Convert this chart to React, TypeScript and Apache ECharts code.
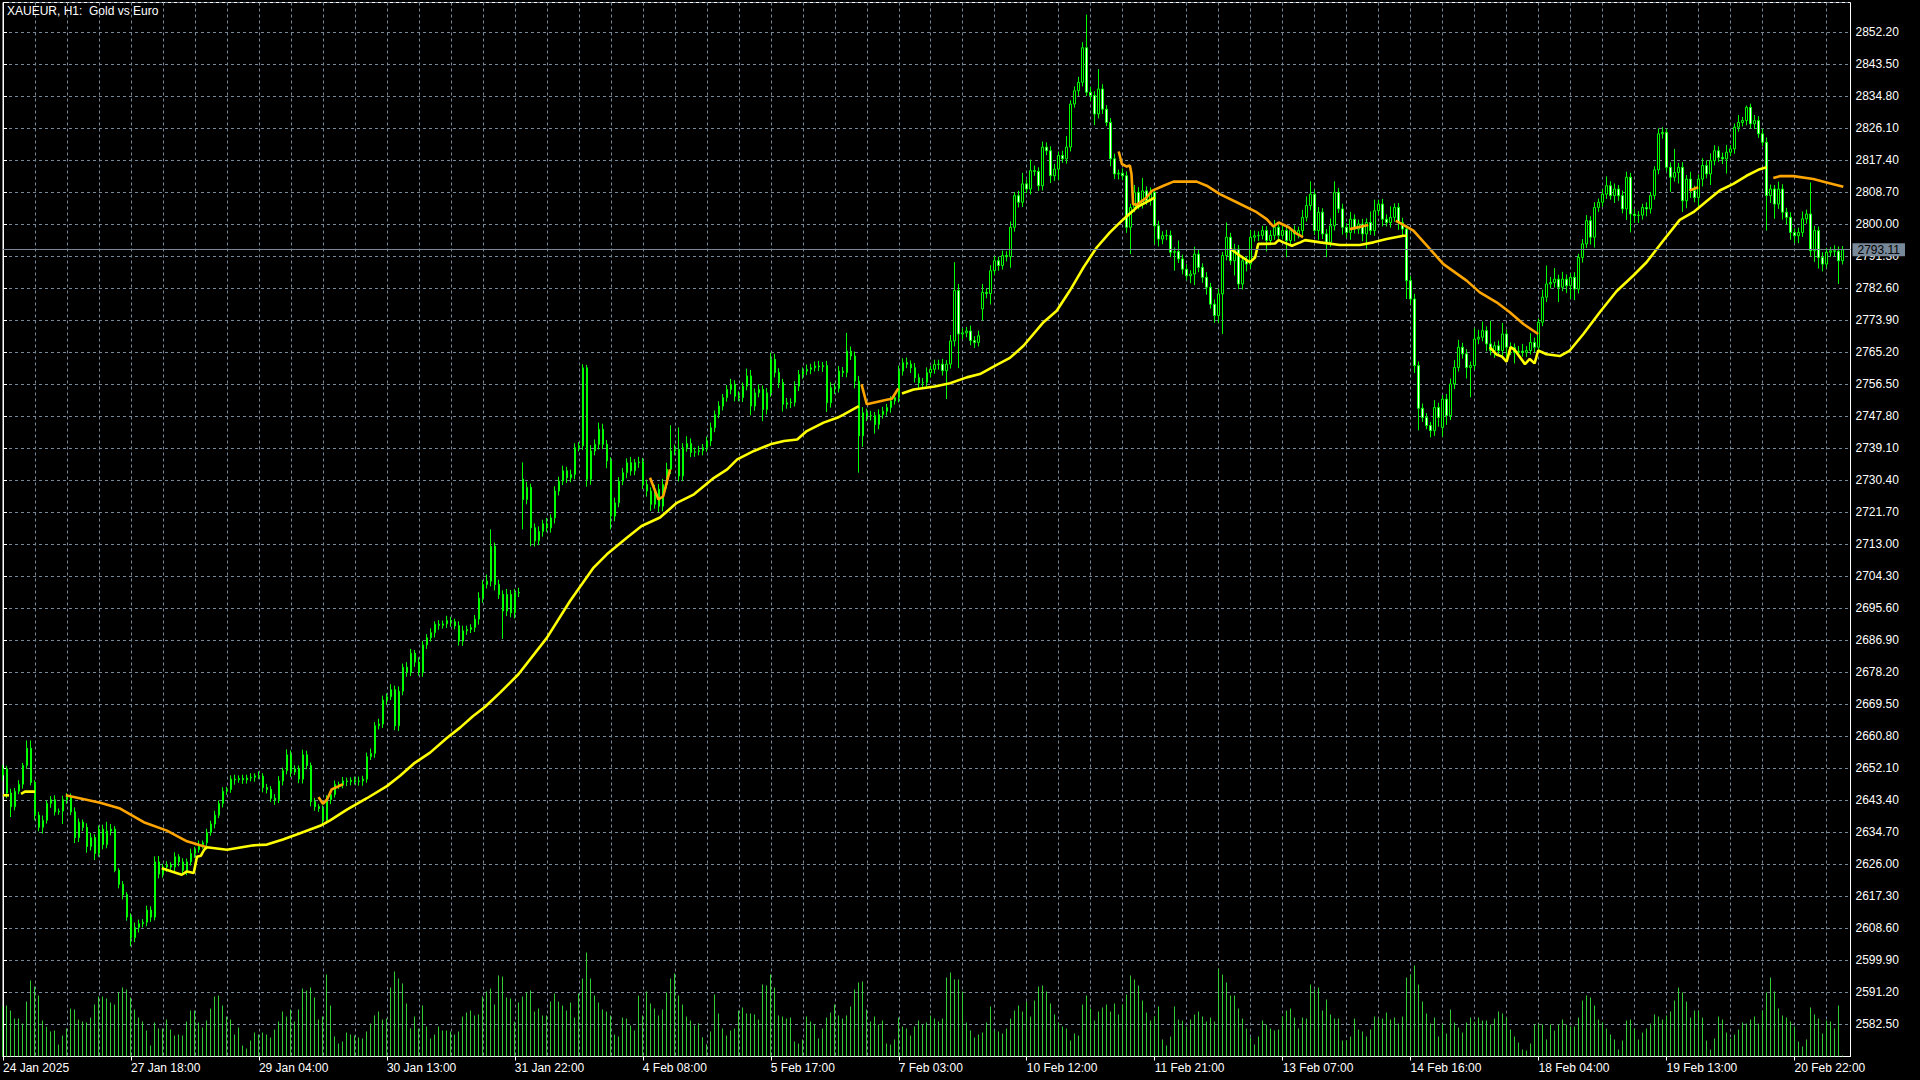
import React, { useEffect, useRef } from 'react';
import * as echarts from 'echarts';

const TITLE = 'XAUEUR, H1:  Gold vs Euro';
const FONT = '"Liberation Sans", Arial, sans-serif';

// X-axis tick labels, one every 32 hourly bars (bar 0, 32, 64 ...)
const tickLabels = [
  '24 Jan 2025', '27 Jan 18:00', '29 Jan 04:00', '30 Jan 13:00', '31 Jan 22:00',
  '4 Feb 08:00', '5 Feb 17:00', '7 Feb 03:00', '10 Feb 12:00', '11 Feb 21:00',
  '13 Feb 07:00', '14 Feb 16:00', '18 Feb 04:00', '19 Feb 13:00', '20 Feb 22:00',
];
const BARS_PER_LABEL = 32;
const BARS_PER_GRID = 8;
const SLOTS = 463; // 461 bars + chart shift

// Price axis
const priceMin = 2573.8;
const priceMax = 2860.3;
const priceStep = 8.7;

// H1 closes
const closes = [
  2652.0,2645.4,2641.7,2645.9,2647.8,2652.9,2657.6,2648.3,2639.4,2636.1,
  2638.0,2642.6,2643.6,2640.3,2640.5,2643.6,2644.5,2640.3,2633.3,2637.5,
  2636.1,2630.9,2633.3,2629.0,2635.6,2631.4,2635.1,2635.6,2624.4,2620.6,
  2617.8,2611.7,2606.1,2608.9,2609.9,2610.3,2613.6,2611.7,2626.7,2623.4,
  2625.3,2625.8,2625.3,2628.1,2626.7,2624.4,2626.7,2629.0,2630.0,2631.4,
  2631.9,2634.7,2637.0,2639.4,2642.6,2645.9,2646.4,2649.2,2649.0,2649.4,
  2649.0,2649.5,2649.7,2650.1,2650.0,2646.9,2646.4,2644.0,2643.6,2648.7,
  2651.5,2655.8,2651.1,2652.0,2649.2,2655.8,2652.9,2643.1,2641.7,2641.2,
  2638.0,2643.6,2645.0,2647.8,2647.6,2648.7,2648.5,2648.9,2648.5,2648.7,
  2649.2,2655.3,2656.2,2663.7,2664.2,2670.7,2671.6,2673.5,2663.7,2673.1,
  2679.6,2678.2,2683.4,2681.0,2678.2,2685.7,2687.6,2689.0,2691.3,2691.0,
  2691.4,2692.3,2692.0,2690.9,2686.7,2689.5,2689.9,2690.4,2692.7,2698.4,
  2702.1,2703.0,2712.5,2702.1,2699.4,2694.9,2699.4,2694.4,2699.9,2699.8,
  2725.2,2728.5,2717.5,2714.0,2716.5,2718.6,2717.5,2720.2,2727.5,2730.2,
  2733.0,2731.1,2732.0,2739.3,2739.8,2761.0,2730.7,2738.4,2740.2,2744.3,
  2740.2,2735.7,2720.7,2724.3,2730.2,2732.5,2735.2,2733.0,2735.2,2735.4,
  2729.3,2727.5,2723.9,2728.0,2723.4,2729.3,2733.4,2738.4,2738.8,2731.6,
  2739.3,2740.4,2738.0,2738.2,2738.5,2739.3,2741.1,2744.7,2748.3,2750.6,
  2752.9,2755.1,2756.5,2753.3,2752.9,2756.0,2758.8,2750.6,2754.2,2755.1,
  2749.7,2754.2,2763.3,2759.7,2757.0,2751.1,2751.5,2751.6,2756.0,2759.2,
  2760.1,2760.6,2761.0,2761.5,2761.3,2761.6,2751.5,2755.6,2755.4,2760.1,
  2759.7,2765.5,2764.2,2757.4,2742.5,2748.8,2747.9,2748.0,2745.6,2748.3,
  2749.2,2750.2,2752.0,2752.9,2760.1,2762.4,2762.0,2761.0,2758.3,2756.9,
  2757.0,2759.7,2760.6,2761.9,2762.0,2760.2,2762.0,2768.3,2782.0,2770.2,
  2770.5,2771.0,2768.4,2767.9,2769.7,2781.5,2781.2,2787.4,2790.1,2788.8,
  2791.5,2791.2,2799.2,2807.8,2806.0,2811.0,2809.6,2814.6,2814.4,2810.5,
  2821.0,2820.0,2813.2,2815.0,2818.7,2817.8,2821.0,2832.7,2836.3,2838.6,
  2848.0,2835.9,2835.0,2830.0,2836.8,2831.3,2827.7,2817.8,2813.7,2813.9,
  2813.2,2799.2,2804.6,2808.7,2805.5,2809.1,2806.4,2808.7,2799.6,2796.0,
  2796.9,2797.0,2792.4,2792.6,2790.6,2787.8,2786.0,2786.5,2791.9,2788.3,
  2785.6,2782.9,2778.3,2775.2,2781.1,2791.5,2796.5,2790.1,2793.3,2783.8,
  2790.1,2789.2,2796.5,2796.9,2797.0,2798.3,2795.6,2797.0,2799.2,2797.0,
  2798.3,2795.6,2798.3,2797.4,2798.3,2801.9,2805.1,2808.2,2798.3,2803.3,
  2797.4,2795.1,2799.6,2808.7,2804.2,2799.2,2797.8,2801.4,2798.7,2800.1,
  2797.4,2800.5,2798.3,2803.7,2805.5,2801.4,2800.5,2801.9,2804.6,2800.5,
  2798.7,2784.7,2779.7,2761.6,2750.0,2747.5,2745.3,2743.9,2750.2,2747.5,
  2752.5,2748.0,2756.6,2761.1,2766.6,2764.8,2761.1,2761.6,2768.8,2769.3,
  2771.1,2767.5,2765.7,2767.0,2765.7,2770.2,2766.6,2766.5,2765.2,2765.5,
  2765.2,2765.7,2767.9,2766.6,2773.4,2780.2,2783.8,2784.2,2785.1,2782.9,
  2785.1,2783.3,2785.6,2782.4,2791.0,2794.7,2801.0,2796.5,2804.6,2806.0,
  2808.2,2810.5,2807.8,2809.6,2807.8,2804.2,2812.8,2802.8,2802.4,2802.5,
  2804.6,2804.2,2807.8,2814.8,2824.6,2825.0,2815.5,2812.8,2814.1,2815.5,
  2806.4,2812.3,2809.2,2807.3,2812.3,2816.0,2813.7,2817.3,2820.0,2818.2,
  2817.8,2819.6,2820.5,2826.4,2827.7,2828.2,2831.8,2827.3,2828.2,2824.6,
  2822.3,2807.8,2809.6,2805.5,2809.6,2803.3,2801.9,2797.8,2796.9,2797.8,
  2801.5,2802.8,2792.8,2798.3,2791.0,2789.2,2792.4,2792.8,2792.7,2790.1,
  2793.11,
];

// Opens that differ from the previous close (session gaps)
const gapOpens: Record<number, number> = { 0: 2650.3, 130: 2730.7, 245: 2777.0, 360: 2744.8 };

// Upper wick length above the body
const wickUp = [
  1.0,0.8,1.2,0.9,1.1,0.7,2.1,2.1,0.6,0.9,1.3,0.8,1.0,1.2,0.7,1.1,0.9,0.8,1.2,1.0,
  0.7,1.1,1.3,0.9,1.0,1.2,2.5,1.4,0.8,0.6,0.9,0.7,1.0,1.3,1.1,0.8,1.2,1.0,1.5,1.6,
  0.9,1.1,0.8,1.2,0.7,1.0,0.9,1.3,0.8,1.1,0.6,1.0,0.9,1.2,0.8,1.1,0.7,1.0,1.2,0.8,
  1.0,0.9,1.1,0.7,1.2,0.8,1.0,0.9,1.1,1.3,0.8,1.5,1.2,1.0,0.9,1.4,1.1,0.8,1.0,0.7,
  0.9,1.2,0.8,1.0,0.7,1.1,0.9,0.8,1.0,1.2,0.9,1.1,1.3,1.0,1.4,1.2,0.9,1.5,1.1,1.3,
  1.0,1.4,1.2,0.9,1.3,1.1,1.0,1.2,0.8,1.1,0.9,1.3,1.0,0.8,1.2,1.4,1.0,0.9,1.1,1.6,
  1.2,1.8,4.6,1.0,1.3,1.1,1.5,1.2,1.0,1.3,4.6,1.5,1.0,1.2,1.4,1.1,1.6,1.0,1.3,1.2,
  1.4,1.1,1.3,1.2,1.0,1.0,0.8,1.6,1.3,1.8,1.5,1.2,1.0,1.4,1.1,1.3,1.2,1.6,1.0,1.4,
  1.1,1.3,1.0,1.2,1.4,1.5,1.8,7.0,1.3,6.0,1.2,2.0,1.4,1.1,1.3,1.0,1.2,1.4,1.1,1.3,
  1.0,1.2,1.5,1.1,1.3,1.0,2.0,1.6,1.2,1.4,1.1,1.3,1.8,1.5,1.2,1.0,1.3,1.1,1.4,1.2,
  1.0,1.3,1.1,1.2,1.4,1.0,1.3,1.5,1.2,1.4,1.1,5.0,1.3,1.2,1.4,1.5,1.1,1.3,1.0,1.4,
  1.2,1.0,1.3,1.1,1.5,1.2,1.4,1.0,1.3,1.1,1.2,1.4,1.0,1.3,1.2,1.4,1.1,1.6,7.7,1.8,
  1.3,1.1,1.5,1.2,1.4,2.3,1.2,1.5,1.3,1.1,1.4,1.2,1.6,1.0,1.3,3.0,1.2,3.0,1.4,1.1,
  1.5,1.3,1.2,1.4,1.1,1.3,3.0,1.0,1.2,1.5,1.5,9.0,1.4,1.2,5.4,1.3,1.1,1.2,1.4,1.0,
  1.3,1.2,1.0,2.0,1.4,3.5,1.2,1.3,1.1,1.4,1.2,1.5,1.3,1.1,3.0,1.2,1.4,1.0,2.0,1.3,
  1.1,1.4,1.2,1.3,1.5,1.0,4.0,1.2,1.4,1.1,1.3,1.2,2.0,1.4,1.1,1.3,1.2,1.4,2.0,1.1,
  1.3,1.2,1.0,1.4,1.1,2.0,2.5,3.5,1.2,1.4,1.1,1.3,2.0,3.0,1.2,1.4,1.1,2.0,1.3,1.2,
  1.4,1.1,3.0,3.0,1.2,1.4,1.3,3.0,1.1,1.2,1.3,1.0,1.2,1.4,1.1,1.3,1.2,1.0,2.0,1.3,
  1.1,1.4,1.5,2.0,2.0,1.2,1.3,1.1,3.0,2.0,2.5,1.2,6.3,1.1,1.4,3.0,1.2,1.3,1.1,1.4,
  2.0,1.2,2.5,1.3,1.0,2.0,5.0,1.5,3.0,1.2,2.0,1.3,1.1,1.4,1.0,1.3,1.5,1.2,1.4,1.0,
  1.3,2.5,1.2,1.5,1.1,1.4,1.5,1.2,1.3,1.1,1.0,1.4,1.0,1.0,1.5,1.4,1.0,1.3,6.4,1.2,
  1.4,1.1,2.0,1.3,1.2,2.0,1.4,2.0,1.5,1.2,1.3,2.0,1.0,1.0,2.0,1.0,0.5,1.0,1.5,1.2,
  1.4,1.3,1.2,1.1,2.0,1.3,1.2,1.4,1.1,1.3,2.0,1.2,8.6,1.3,1.1,1.4,1.2,1.0,1.5,1.3,
  1.0,
];

// Lower wick length below the body
const wickDn = [
  1.5,1.4,2.8,1.0,0.8,1.2,0.9,0.8,1.4,1.1,1.7,0.9,1.2,1.0,0.8,3.5,1.1,0.9,1.5,1.2,
  1.0,1.7,1.1,1.8,0.9,1.3,1.0,1.2,0.5,1.1,1.3,1.0,2.3,1.2,1.4,1.0,1.1,1.3,0.9,1.2,
  1.0,1.3,0.8,1.1,1.2,0.9,1.3,1.0,1.2,0.8,1.1,1.0,0.9,1.2,0.8,1.1,1.0,0.9,1.3,0.8,
  1.1,1.0,0.9,1.2,0.8,1.3,1.1,1.0,1.4,0.9,1.2,1.0,1.3,0.8,1.1,1.2,1.0,1.3,1.1,0.9,
  1.4,1.0,1.2,0.8,1.1,0.9,1.2,1.0,0.8,1.1,1.3,1.0,0.9,1.2,1.0,1.1,1.3,0.9,1.2,1.4,
  1.1,1.2,1.0,1.3,0.9,1.2,1.1,1.0,1.3,1.2,0.9,1.1,1.4,1.0,1.2,1.3,1.1,1.0,1.2,1.5,
  1.3,1.1,1.4,1.6,1.2,7.6,1.4,1.2,1.5,1.1,8.1,1.3,5.0,1.6,1.2,1.4,1.1,1.3,1.5,1.2,
  1.1,1.4,1.2,1.3,1.0,1.1,2.0,1.5,1.2,1.4,1.3,2.0,3.6,1.4,1.2,1.1,1.5,1.3,1.2,1.4,
  1.3,1.5,1.8,1.2,1.6,1.4,1.1,1.3,1.2,1.5,1.4,1.1,1.3,1.2,1.0,1.3,1.1,1.4,1.2,1.0,
  1.2,1.1,1.3,1.4,1.0,1.2,1.1,2.5,1.3,1.2,3.2,1.4,1.1,1.3,1.5,2.0,1.2,1.4,1.1,1.3,
  1.2,1.1,1.3,1.0,1.2,1.4,2.5,1.3,1.5,1.1,1.2,1.3,1.1,2.0,10.0,3.0,1.4,1.2,2.5,1.3,
  1.1,1.2,1.4,1.0,1.3,1.2,1.1,1.4,1.3,1.5,1.2,1.1,1.3,1.2,1.4,1.3,7.7,1.2,1.5,9.3,
  1.4,1.2,1.3,1.5,1.1,3.2,1.3,3.0,1.2,1.4,1.1,1.3,3.0,1.2,1.4,1.3,1.1,1.5,1.2,1.4,
  1.3,1.2,2.0,1.4,3.0,1.1,1.3,1.2,1.0,1.4,1.1,1.0,1.5,3.0,1.2,1.3,1.0,2.0,1.4,1.5,
  1.2,1.5,7.3,1.3,1.4,1.2,1.1,1.3,5.0,2.0,1.4,1.2,1.3,5.0,1.1,1.4,1.2,2.0,3.0,1.3,
  1.5,2.0,1.2,2.0,2.0,10.9,1.3,1.1,4.0,1.4,1.5,2.0,1.3,1.2,1.4,1.1,3.0,1.3,1.2,1.4,
  1.1,4.5,1.3,2.0,1.2,1.4,1.1,1.3,1.2,2.5,1.4,4.0,1.2,1.3,1.1,2.0,1.4,2.0,1.2,1.3,
  2.0,4.0,1.2,1.4,1.3,2.0,1.1,1.4,1.2,2.0,2.0,5.0,1.5,2.0,6.0,1.2,1.0,1.8,1.4,2.5,
  2.5,2.5,1.2,1.4,1.1,1.3,3.0,8.1,1.2,1.4,1.1,2.0,1.3,2.0,1.2,1.4,3.0,2.0,3.0,1.2,
  1.2,1.3,1.1,1.4,1.2,1.1,1.3,1.2,1.4,4.0,1.1,2.0,3.6,3.0,1.2,1.4,1.1,2.0,2.8,1.2,
  1.2,1.3,1.1,2.0,1.4,1.2,3.0,5.0,2.0,2.0,1.2,2.0,1.3,1.1,1.2,1.3,1.1,4.0,1.2,3.0,
  3.0,2.0,2.0,1.3,3.0,2.0,1.2,3.0,1.3,1.2,1.4,4.0,1.1,1.3,1.2,1.1,1.3,1.2,1.4,1.1,
  1.0,9.5,2.0,4.0,1.3,2.0,2.0,2.0,2.0,2.0,1.2,1.3,1.5,3.0,3.0,2.0,1.0,1.2,1.4,6.3,
  1.0,
];

// Tick volumes
const volumes = [
  1500,
  1530,1380,1140,1140,990,1650,2280,2100,1830,1080,
  890,750,780,360,630,840,1440,1410,1110,1050,
  1020,1170,1560,1800,1800,1740,1620,1560,1920,2070,
  2010,1770,1410,1170,1050,780,330,1020,840,840,
  1110,810,630,660,630,1050,1380,1380,1020,870,
  1080,1440,1800,1830,1530,1200,1110,660,870,330,
  240,480,720,660,720,660,570,810,1050,1350,
  1200,1410,1050,1410,2040,1980,2070,1770,1110,1200,
  2460,1530,600,390,450,720,660,630,570,540,
  750,990,1230,1350,1110,1140,2070,2550,2340,2190,
  1590,850,1200,840,1530,900,540,660,900,780,
  780,750,660,750,1200,1320,1380,1230,1260,1800,
  1950,2040,1560,2430,2400,1770,1740,1050,1620,1800,
  1920,1980,1350,1440,1230,1230,1650,1890,1650,1530,
  1380,1620,1170,1890,2340,3120,2340,1830,1620,1410,
  1350,1230,660,600,1170,1140,930,780,1830,1230,
  1950,1590,1440,1230,1410,1920,2340,2490,1830,1560,
  1200,1080,930,
  1000,
  580,370,750,1860,1290,840,630,780,840,1380,
  1470,1290,1290,1260,1110,2160,2130,2460,2070,1230,
  1200,1140,1170,450,390,510,1200,1050,960,540,
  840,1170,1320,1560,1230,1140,1230,1500,2010,2220,
  2250,1410,1050,1200,960,1080,390,360,510,1170,
  900,840,630,900,1080,960,1020,1230,1140,1050,
  1140,2370,2520,2310,2310,1950,1020,780,570,660,
  720,1020,1500,780,750,690,840,1140,1380,1530,
  1350,1650,1200,1680,2100,2130,1950,1590,1260,1020,
  900,840,480,690,630,1560,1830,1440,1080,1350,
  1470,1560,1350,1590,1260,1560,1860,2430,2310,2130,
  1680,1320,1080,1200,1500,510,330,600,1500,1110,
  1080,900,1110,1260,1350,1200,1050,1170,1050,2640,
  2460,2220,1830,1830,1440,1140,840,570,360,600,
  1080,960,840,780,810,1200,1380,1440,1170,840,
  1170,1140,2160,2010,2070,1380,1710,1260,1140,1140,
  480,480,600,1140,810,750,600,810,1200,1140,
  1140,1320,1110,1170,990,1200,2370,2460,2730,2160,
  1650,1290,990,1170,600,990,690,1410,1020,870,
  720,1020,1170,1050,1170,1080,1080,960,1140,1350,
  1290,1170,810,600,420,210,180,390,960,990,
  960,510,960,780,960,1110,960,900,900,1170,
  1680,1830,1770,1530,1110,1020,840,660,510,210,
  480,1080,1110,840,510,720,840,990,1260,1200,
  1110,1230,1350,1680,2070,1920,1650,1170,1380,1380,
  1170,480,210,540,1200,1110,720,540,660,810,
  1020,990,1110,1200,990,1380,1920,2370,1950,1440,
  1230,1170,1050,900,450,300,510,1470,1260,1140,
  690,1080,1050,840,1530,30,
];

// Moving-average indicator, rising (yellow) pieces: [bar, price]
const maRisingSegments: number[][][] = [
  [[0, 2644.8], [1.5, 2644.8]],
  [[4.5, 2645.2], [5.5, 2645.8], [8, 2645.8]],
  [[39.7, 2625.0], [44.7, 2623.2], [46, 2624.1], [47.7, 2623.7], [48.5, 2628.1], [49.5, 2628.4], [50.3, 2630.0], [51, 2630.7]],
  [[51, 2630.7], [56, 2630.0], [62.7, 2631.2], [66, 2631.4], [70, 2632.8], [74.3, 2634.5], [79.3, 2636.5], [81.8, 2638.0],
   [86, 2640.9], [91, 2644.0], [96, 2647.3], [99.3, 2650.1], [102.7, 2653.4], [106.8, 2656.4], [111, 2660.4], [114.3, 2663.2],
   [117.5, 2666.3], [120.5, 2668.8], [124.3, 2672.7], [128.9, 2677.7], [136, 2687.6], [141.8, 2697.6], [147.7, 2706.7],
   [151, 2710.3], [156, 2714.8], [159.7, 2718.0], [164.3, 2720.3], [168.5, 2724.3], [172.8, 2726.6], [177.8, 2731.1],
   [181.1, 2733.4], [183.6, 2736.1], [187.8, 2738.4], [191.9, 2740.2], [195.3, 2741.1], [198.6, 2741.5], [201, 2743.8],
   [205.2, 2746.1], [208.6, 2747.4], [210.2, 2748.3], [214, 2750.6]],
  [[224.8, 2754.0], [227.7, 2755.1], [233, 2755.9], [236.8, 2756.8], [241, 2758.4], [244.3, 2759.3], [248.5, 2761.8],
   [251.8, 2763.7], [255.2, 2767.0], [260.2, 2773.4], [263.5, 2776.5], [266.8, 2782.0], [270.2, 2788.3], [273.5, 2793.7],
   [276.8, 2797.8], [280.2, 2801.4], [283.5, 2804.6], [288.1, 2807.3]],
  [[307, 2793.3], [309.3, 2791.5], [311.8, 2789.7], [313.1, 2791.0], [313.9, 2794.7], [316, 2794.7], [318.1, 2794.8],
   [319, 2795.7], [320.2, 2795.1], [322.3, 2794.2], [324.4, 2795.1], [325.6, 2795.7], [329.4, 2795.1], [334.3, 2794.4],
   [339.3, 2794.4], [342.7, 2795.1], [346, 2796.0], [350.2, 2796.9], [351, 2796.9]],
  [[371.8, 2766.6], [373.5, 2764.6], [374.8, 2764.1], [376, 2762.7], [377, 2766.6], [378, 2765.9], [380.6, 2762.0],
   [381.8, 2763.4], [383, 2762.2], [383.9, 2765.7], [386, 2764.7], [389.3, 2764.2], [391.8, 2765.7], [395.2, 2770.2],
   [399.3, 2776.1], [403.5, 2781.8], [407.7, 2786.1], [411, 2789.7], [415.2, 2795.6], [419.3, 2801.2], [422.7, 2803.3],
   [426, 2806.3], [429.3, 2809.2], [432.7, 2811.0], [436, 2813.2], [439.3, 2815.0], [441, 2815.5]],
];

// Moving-average indicator, falling (orange) pieces: [bar, price]
const maFallingSegments: number[][][] = [
  [[15.7, 2644.8], [24.3, 2642.8], [29.3, 2641.2], [35.2, 2637.5], [41, 2635.2], [46, 2632.3], [49.3, 2631.2], [51, 2630.7]],
  [[78.9, 2644.3], [80, 2642.5], [81, 2643.6], [82.2, 2646.4], [85, 2647.8]],
  [[161.8, 2731.1], [163.9, 2725.2], [165.1, 2726.1], [166.8, 2733.4]],
  [[214.7, 2756.5], [216, 2751.1], [221, 2752.3], [222.3, 2752.6], [223.9, 2755.4]],
  [[279, 2819.8], [279.8, 2816.4], [281, 2815.7], [281.8, 2816.0], [282.2, 2813.7], [282.6, 2805.5], [283.5, 2805.3],
   [286, 2807.3], [287.3, 2809.1], [290.2, 2810.5], [292.7, 2811.6], [298.5, 2811.6], [301, 2810.5], [304.3, 2808.2],
   [308.5, 2806.0], [313.5, 2803.3], [316, 2801.4], [317.7, 2799.4], [319, 2800.5], [321.5, 2799.2], [323.6, 2797.4],
   [325.1, 2796.5]],
  [[336.8, 2798.7], [341.4, 2799.8]],
  [[348.3, 2801.0], [352.7, 2798.3], [356.8, 2793.3], [360.2, 2789.2], [366, 2784.7], [369.3, 2781.5], [373.5, 2778.8],
   [376.8, 2776.1], [380.2, 2772.9], [383.9, 2770.2]],
  [[421.8, 2809.2], [423.9, 2810.1]],
  [[442.7, 2812.6], [444.3, 2813.1], [447.7, 2813.1], [452.7, 2812.3], [456, 2811.4], [460.2, 2810.2]],
];

const GRID_COLOR = '#778899';
const CANDLE_GREEN = '#00ff00';
const VOLUME_GREEN = '#32cd32';
const RISING_COLOR = '#ffff00';
const FALLING_COLOR = '#ffa500';

export default function App() {
  const ref = useRef<HTMLDivElement>(null);

  useEffect(() => {
    if (!ref.current) return;
    const chart = echarts.init(ref.current, null, { renderer: 'svg' });

    const categories = Array.from({ length: SLOTS }, (_, i) => String(i));
    const candles = closes.map((c, i) => {
      const o = gapOpens[i] !== undefined ? gapOpens[i] : closes[i - 1];
      const hi = Math.max(o, c) + wickUp[i];
      const lo = Math.min(o, c) - wickDn[i];
      return [o, c, Math.round(lo * 100) / 100, Math.round(hi * 100) / 100];
    });
    const lastPrice = closes[closes.length - 1];

    const lineSeries = (segs: number[][][], color: string) =>
      segs.map((seg) => ({
        type: 'line',
        xAxisIndex: 1,
        yAxisIndex: 0,
        data: seg,
        showSymbol: false,
        symbol: 'none',
        silent: true,
        z: 4,
        lineStyle: { color, width: 2.6 },
      }));

    const option: any = {
      animation: false,
      backgroundColor: '#000000',
      title: {
        text: TITLE,
        left: 7,
        top: 5,
        padding: 0,
        textStyle: { color: '#ffffff', fontSize: 12, fontWeight: 'normal', fontFamily: FONT },
      },
      grid: [
        { left: 2.5, right: 69.5, top: 2.5, bottom: 23.5, show: true, borderColor: '#ffffff', borderWidth: 1, backgroundColor: 'transparent' },
        { left: 2.5, right: 69.5, top: 952.5, bottom: 23.5, show: false },
      ],
      xAxis: [
        {
          type: 'category',
          gridIndex: 0,
          data: categories,
          boundaryGap: false,
          axisLine: { show: true, lineStyle: { color: '#ffffff' } },
          axisTick: { show: true, interval: BARS_PER_LABEL - 1, length: 4, lineStyle: { color: '#ffffff' } },
          axisLabel: {
            interval: BARS_PER_LABEL - 1,
            color: '#ffffff',
            fontSize: 12,
            fontFamily: FONT,
            align: 'left',
            margin: 5,
            formatter: (_v: string, idx: number) =>
              idx % BARS_PER_LABEL === 0 && tickLabels[idx / BARS_PER_LABEL] ? tickLabels[idx / BARS_PER_LABEL] : '',
          },
          splitLine: { show: true, interval: BARS_PER_GRID - 1, lineStyle: { color: GRID_COLOR, type: [3, 3], width: 1 } },
        },
        {
          type: 'value',
          gridIndex: 0,
          min: 0,
          max: SLOTS - 1,
          show: false,
          splitLine: { show: false },
        },
        {
          type: 'category',
          gridIndex: 1,
          data: categories,
          boundaryGap: false,
          show: false,
        },
      ],
      yAxis: [
        {
          type: 'value',
          gridIndex: 0,
          position: 'right',
          min: priceMin,
          max: priceMax,
          interval: priceStep,
          axisLine: { show: true, lineStyle: { color: '#ffffff' } },
          axisTick: { show: true, length: 4, lineStyle: { color: '#ffffff' } },
          axisLabel: {
            color: '#ffffff',
            fontSize: 12,
            fontFamily: FONT,
            margin: 5,
            formatter: (v: number) => (v < priceMin + 1 || v > priceMax - 1 ? '' : v.toFixed(2)),
          },
          splitLine: { show: true, lineStyle: { color: GRID_COLOR, type: [3, 3], width: 1 } },
        },
        {
          type: 'value',
          gridIndex: 1,
          min: 0,
          max: 'dataMax',
          show: false,
          splitLine: { show: false },
        },
      ],
      series: [
        {
          type: 'bar',
          name: 'Volume',
          xAxisIndex: 2,
          yAxisIndex: 1,
          data: volumes,
          barWidth: 1,
          silent: true,
          itemStyle: { color: VOLUME_GREEN },
          z: 2,
        },
        {
          type: 'candlestick',
          name: 'XAUEUR',
          xAxisIndex: 0,
          yAxisIndex: 0,
          data: candles,
          barWidth: 2,
          silent: true,
          z: 3,
          itemStyle: {
            color: '#000000',
            color0: '#ffffff',
            borderColor: CANDLE_GREEN,
            borderColor0: CANDLE_GREEN,
            borderWidth: 1,
          },
          markLine: {
            silent: true,
            symbol: ['none', 'none'],
            z: 6,
            lineStyle: { color: GRID_COLOR, type: 'solid', width: 1 },
            label: {
              show: true,
              position: 'end',
              distance: 2,
              formatter: lastPrice.toFixed(2),
              color: '#000000',
              backgroundColor: GRID_COLOR,
              padding: [1, 5, 0, 5],
              fontSize: 12,
              fontFamily: FONT,
            },
            data: [{ yAxis: lastPrice }],
          },
        },
        ...lineSeries(maFallingSegments, FALLING_COLOR),
        ...lineSeries(maRisingSegments, RISING_COLOR),
      ],
    };

    chart.setOption(option);
    return () => chart.dispose();
  }, []);

  return (
    <div
      ref={ref}
      style={{ position: 'fixed', left: 0, top: 0, width: 1920, height: 1080, background: '#000000' }}
    />
  );
}
